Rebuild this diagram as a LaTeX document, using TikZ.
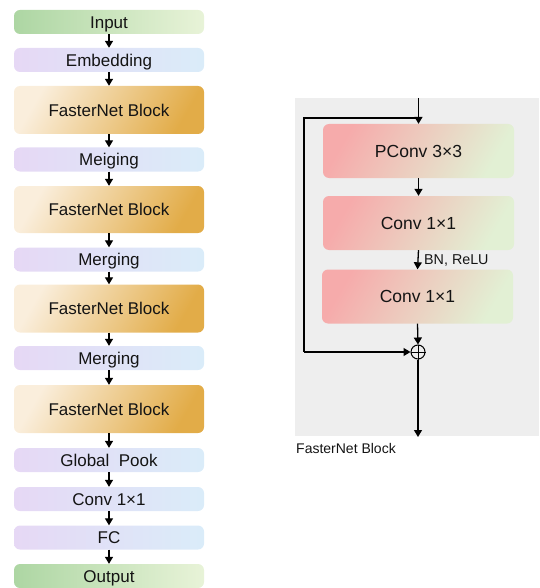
\documentclass[tikz,border=0pt]{standalone}
\usepackage{fontspec}
\setmainfont{Liberation Sans}
\usetikzlibrary{arrows.meta}
\definecolor{txt}{HTML}{141414}
\definecolor{gA}{HTML}{ADD6A3}
\definecolor{gB}{HTML}{E8F3D8}
\definecolor{pA}{HTML}{E6D8F5}
\definecolor{pB}{HTML}{DAECF9}
\definecolor{oA}{HTML}{FAEEDC}
\definecolor{oB}{HTML}{E2AC48}
\definecolor{rA}{HTML}{F6ABAB}
\definecolor{rB}{HTML}{E2F0D4}
\definecolor{bgG}{HTML}{EEEEEE}
\tikzset{
  every node/.style={text=txt},
  base/.style={rounded corners=6pt, minimum width=190pt, inner sep=0pt, text height=12.2pt, text depth=0pt, font=\fontsize{17}{19}\selectfont},
  greenbox/.style={base, minimum height=24pt, left color=gA, right color=gB},
  lilacbox/.style={base, minimum height=24pt, left color=pA, right color=pB},
  goldbox/.style={base, minimum height=48pt, top color=oA, bottom color=oB, shading angle=60},
  pinkbox/.style={base, minimum width=191pt, minimum height=54pt, text height=12.5pt, top color=rA, bottom color=rB, shading angle=60, font=\fontsize{17.5}{19}\selectfont},
  arr/.style={-{Triangle[length=7pt,width=8pt]}, line width=1.3pt, black},
  ln/.style={line width=1.3pt, black},
}
\begin{document}
\begin{tikzpicture}[x=1pt,y=-1pt]
\useasboundingbox (0,0) rectangle (539,588);
% left column
\node[greenbox] (in) at (109,22) {Input};
\node[lilacbox] (emb) at (109,60) {Embedding};
\node[goldbox] (fb1) at (109,110) {FasterNet Block};
\node[lilacbox] (m1) at (109,159.5) {Meiging};
\node[goldbox, minimum height=47pt] (fb2) at (109,209.5) {FasterNet Block};
\node[lilacbox] (m2) at (109,259.5) {Merging};
\node[goldbox] (fb3) at (109,308.5) {FasterNet Block};
\node[lilacbox] (m3) at (109,358) {Merging};
\node[goldbox] (fb4) at (109,409) {FasterNet Block};
\node[lilacbox] (gp) at (109,460) {Global\ \ Pook};
\node[lilacbox] (cv) at (109,499) {Conv 1×1};
\node[lilacbox] (fc) at (109,537.5) {FC};
\node[greenbox] (out) at (109,576) {Output};
\foreach \a/\b in {in/emb, emb/fb1, fb1/m1, m1/fb2, fb2/m2, m2/fb3, fb3/m3, m3/fb4, fb4/gp, gp/cv, cv/fc, fc/out}
  \draw[arr] (\a.south) -- (\b.north);
% right block
\fill[bgG] (295,98) rectangle (539,436);
\node[pinkbox] (pc) at (418.5,151) {PConv 3×3};
\node[pinkbox] (c1) at (418.5,223) {Conv 1×1};
\node[pinkbox] (c2) at (417.5,296.5) {Conv 1×1};
\node[circle, draw, line width=1pt, minimum size=14pt, inner sep=0pt] (plus) at (418,352) {};
\draw[line width=1pt] (plus.north) -- (plus.south) (plus.west) -- (plus.east);
\coordinate (top) at (418.5,98);
\coordinate (j) at (418.5,118);
\coordinate (s1) at (304,118);
\coordinate (s2) at (304,352);
\coordinate (fin) at (418,437);
\draw[arr] (top) -- (pc.north);
\draw[ln] (j) -- (s1) -- (s2);
\draw[arr] (s2) -- (plus.west);
\draw[arr] (pc.south) -- (c1.north);
\draw[arr] (c1.south) -- (c2.north);
\draw[arr] (c2.south) -- (plus.north);
\draw[arr] (plus.south) -- (fin);
\node[anchor=west, font=\fontsize{14.3}{16}\selectfont, inner sep=0pt] (bn) at (424,260) {BN, ReLU};
\node[anchor=west, font=\fontsize{14}{16}\selectfont, inner sep=0pt] (lbl) at (296,448) {FasterNet Block};
\end{tikzpicture}
\end{document}
